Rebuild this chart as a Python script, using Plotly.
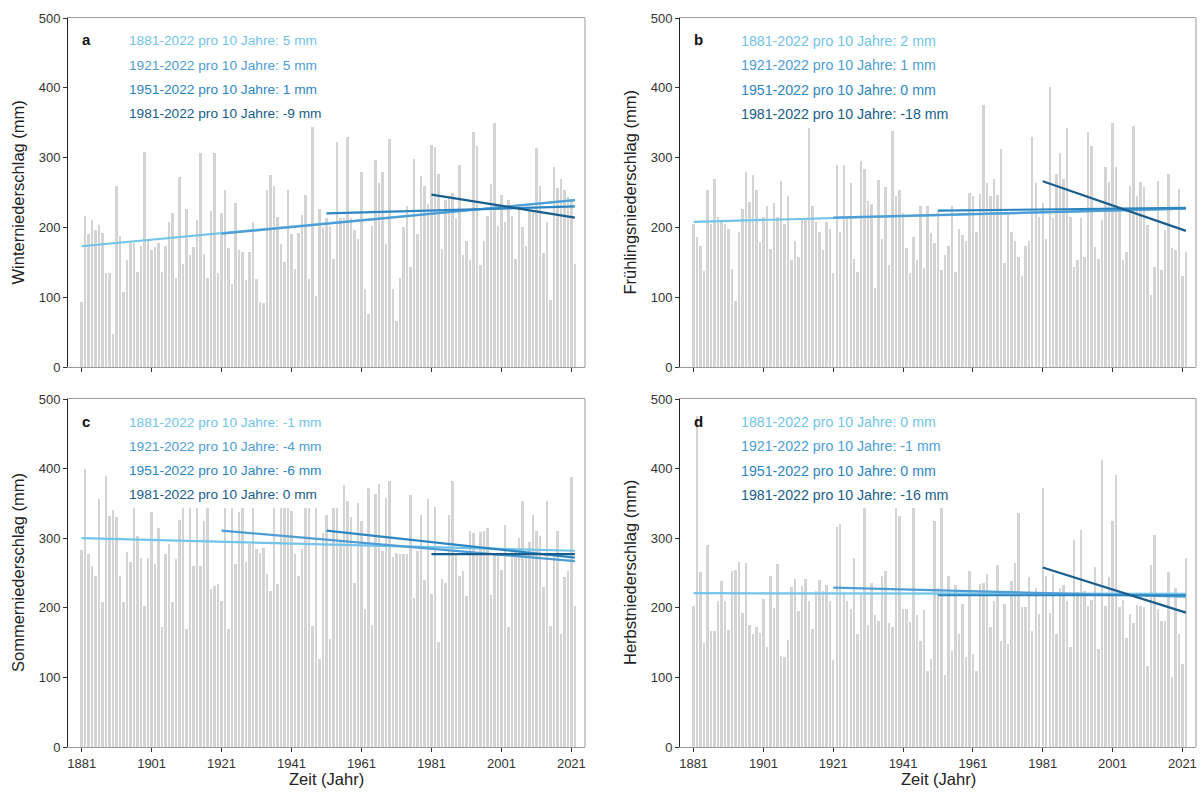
import plotly.graph_objects as go
from plotly.subplots import make_subplots

years = list(range(1881, 2023))

winter = [93, 216, 191, 210, 196, 203, 192, 135, 134, 48,
          260, 187, 108, 153, 177, 177, 136, 174, 308, 181,
          168, 172, 177, 136, 174, 208, 220, 127, 272, 148,
          227, 160, 172, 211, 307, 162, 128, 224, 307, 134,
          220, 253, 170, 119, 235, 167, 165, 124, 165, 208,
          126, 93, 92, 253, 275, 260, 215, 176, 150, 253,
          191, 141, 192, 218, 247, 126, 344, 102, 226, 201,
          213, 202, 155, 322, 213, 213, 330, 213, 196, 184,
          279, 112, 76, 202, 296, 264, 279, 176, 326, 112,
          66, 128, 201, 230, 143, 298, 190, 273, 259, 234,
          318, 315, 277, 169, 239, 244, 249, 213, 289, 160,
          181, 153, 337, 316, 146, 181, 217, 262, 350, 202,
          247, 208, 239, 217, 155, 229, 201, 173, 224, 222,
          314, 259, 163, 208, 96, 287, 257, 270, 254, 244,
          239, 148]

spring = [205, 186, 173, 138, 253, 205, 269, 215, 210, 205,
          197, 141, 94, 193, 227, 280, 236, 275, 253, 179,
          215, 231, 169, 235, 215, 266, 205, 245, 153, 180,
          158, 211, 211, 342, 231, 208, 193, 167, 208, 198,
          134, 290, 193, 290, 215, 263, 155, 136, 295, 283,
          238, 234, 113, 268, 184, 258, 146, 338, 245, 253,
          220, 171, 135, 186, 154, 230, 142, 230, 192, 178,
          223, 139, 160, 174, 230, 136, 197, 189, 181, 249,
          245, 194, 248, 376, 264, 245, 270, 247, 312, 149,
          222, 194, 180, 158, 131, 174, 181, 329, 264, 215,
          235, 184, 401, 213, 277, 307, 270, 342, 215, 143,
          153, 213, 158, 337, 316, 172, 155, 210, 286, 265,
          350, 287, 229, 154, 165, 259, 345, 245, 265, 258,
          203, 103, 143, 266, 139, 196, 276, 170, 168, 255,
          131, 165]

summer = [283, 399, 277, 260, 245, 356, 209, 389, 332, 341,
          330, 245, 208, 280, 266, 343, 303, 271, 202, 271,
          338, 263, 314, 173, 277, 292, 208, 270, 326, 343,
          170, 343, 260, 343, 260, 325, 343, 227, 232, 234,
          210, 343, 170, 343, 263, 337, 343, 266, 292, 343,
          284, 279, 286, 248, 224, 343, 234, 343, 343, 343,
          339, 277, 245, 284, 343, 343, 174, 343, 127, 307,
          333, 155, 343, 343, 296, 376, 353, 330, 235, 351,
          325, 198, 372, 176, 364, 378, 281, 358, 382, 273,
          279, 278, 277, 277, 362, 214, 282, 333, 240, 357,
          220, 345, 151, 242, 236, 334, 382, 277, 245, 253,
          217, 310, 307, 277, 309, 311, 315, 219, 277, 277,
          254, 319, 173, 282, 282, 300, 354, 277, 295, 333,
          311, 303, 230, 353, 174, 277, 311, 162, 244, 253,
          388, 202]

autumn = [203, 475, 251, 150, 290, 167, 167, 210, 239, 210,
          168, 253, 254, 266, 192, 264, 175, 162, 172, 164,
          212, 143, 246, 200, 263, 131, 129, 154, 230, 241,
          195, 232, 242, 210, 170, 224, 240, 224, 233, 210,
          125, 316, 320, 221, 210, 198, 271, 162, 220, 343,
          176, 235, 189, 181, 246, 253, 178, 172, 343, 332,
          198, 198, 179, 343, 189, 153, 197, 109, 127, 325,
          229, 343, 103, 246, 138, 233, 162, 205, 129, 253,
          134, 109, 234, 236, 249, 172, 210, 262, 152, 206,
          148, 238, 265, 336, 201, 201, 244, 167, 228, 191,
          372, 246, 193, 248, 163, 229, 233, 210, 144, 297,
          223, 312, 224, 202, 211, 258, 141, 412, 203, 244,
          325, 391, 201, 211, 157, 191, 178, 204, 203, 201,
          116, 262, 304, 198, 181, 181, 251, 100, 228, 162,
          119, 271]

trend_start_years = [1881, 1921, 1951, 1981]
trend_end_year = 2022
trend_labels = ["1881-2022", "1921-2022", "1951-2022", "1981-2022"]

trend_a_start = [173, 191, 220, 247]
trend_a_end = [239, 239, 230, 214]
trend_b_start = [208, 214, 224, 266]
trend_b_end = [227, 227, 228, 195]
trend_c_start = [300, 311, 311, 277]
trend_c_end = [282, 267, 272, 277]
trend_d_start = [221, 229, 218, 258]
trend_d_end = [220, 216, 218, 193]

slopes_a = ["5", "5", "1", "-9"]
slopes_b = ["2", "1", "0", "-18"]
slopes_c = ["-1", "-4", "-6", "0"]
slopes_d = ["0", "-1", "0", "-16"]

panel_letters = ["a", "b", "c", "d"]
ylabels = ["Winterniederschlag (mm)", "Frühlingsniederschlag (mm)",
           "Sommerniederschlag (mm)", "Herbstniederschlag (mm)"]
xlabel = "Zeit (Jahr)"
xtick_vals = [1881, 1901, 1921, 1941, 1961, 1981, 2001, 2021]
ytick_vals = [0, 100, 200, 300, 400, 500]

line_colors = ["#72c4e9", "#4e9dd4", "#2d86c1", "#195d8c"]
bar_color = "#d4d4d4"
FONT = "Liberation Sans, Arial, Helvetica, sans-serif"

W, H = 1200, 803
# pixel boxes of the four panels: (left, right, top, bottom)
boxes = [(68, 585, 18, 367), (680, 1196, 18, 367),
         (68, 585, 399, 747), (680, 1196, 399, 747)]
text_sizes = [13.7, 14.2, 13.7, 14.2]

fig = make_subplots(rows=2, cols=2)

series = [winter, spring, summer, autumn]
tstarts = [trend_a_start, trend_b_start, trend_c_start, trend_d_start]
tends = [trend_a_end, trend_b_end, trend_c_end, trend_d_end]
slopes = [slopes_a, slopes_b, slopes_c, slopes_d]
pos = [(1, 1), (1, 2), (2, 1), (2, 2)]

annotations = []
shapes = []
for i in range(4):
    r, c = pos[i]
    fig.add_trace(go.Bar(x=years, y=series[i], width=0.7, marker_color=bar_color,
                         marker_line_width=0, showlegend=False, hoverinfo="x+y"),
                  row=r, col=c)
    for k in range(4):
        fig.add_trace(go.Scatter(x=[trend_start_years[k], trend_end_year],
                                 y=[tstarts[i][k], tends[i][k]], mode="lines",
                                 line=dict(color=line_colors[k], width=2.2),
                                 showlegend=False),
                      row=r, col=c)
    L, R, T, B = boxes[i]
    ax = "" if i == 0 else str(i + 1)
    fig.layout["xaxis" + ax].update(
        domain=[L / W, R / W], range=[1877.1, 2024.9], automargin=False,
        tickmode="array", tickvals=xtick_vals, ticks="outside", ticklen=4,
        tickcolor="#333", showticklabels=(i >= 2),
        showline=True, linecolor="#9a9a9a", linewidth=1, mirror=True,
        showgrid=False, zeroline=False,
        tickfont=dict(family=FONT, size=13, color="#333"))
    fig.layout["yaxis" + ax].update(
        domain=[1 - B / H, 1 - T / H], range=[0, 500], automargin=False,
        tickmode="array", tickvals=ytick_vals, ticks="outside", ticklen=4,
        tickcolor="#333", showline=True, linecolor="#222", linewidth=1,
        mirror=False, showgrid=False, zeroline=False,
        tickfont=dict(family=FONT, size=13, color="#333"))
    shapes.append(dict(type="line", xref="x" + ax + " domain", yref="y" + ax + " domain",
                       x0=1, x1=1, y0=0, y1=1, line=dict(color="#9a9a9a", width=1)))
    annotations.append(dict(text="<b>" + panel_letters[i] + "</b>", xref="paper", yref="paper",
                            x=(L + 12) / W, y=1 - (T + 22) / H, xanchor="left", yanchor="middle",
                            showarrow=False, font=dict(family=FONT, size=15, color="#111")))
    for k in range(4):
        annotations.append(dict(text=trend_labels[k] + " pro 10 Jahre: " + slopes[i][k] + " mm",
                                xref="paper", yref="paper",
                                x=(L + 59) / W, y=1 - (T + 23 + 24.3 * k) / H,
                                xanchor="left", yanchor="middle", showarrow=False,
                                font=dict(family=FONT, size=text_sizes[i], color=line_colors[k])))
    annotations.append(dict(text=ylabels[i], xref="paper", yref="paper",
                            x=(L - 50) / W, y=1 - ((T + B) / 2) / H, textangle=-90,
                            xanchor="center", yanchor="middle", showarrow=False,
                            font=dict(family=FONT, size=16.5, color="#222")))
    if i >= 2:
        annotations.append(dict(text=xlabel, xref="paper", yref="paper",
                                x=((L + R) / 2) / W, y=1 - 779 / H,
                                xanchor="center", yanchor="middle", showarrow=False,
                                font=dict(family=FONT, size=16.5, color="#222")))

fig.update_layout(template="none", width=W, height=H, margin=dict(l=0, r=0, t=0, b=0, pad=0),
                  plot_bgcolor="white", paper_bgcolor="white",
                  annotations=annotations, shapes=shapes, bargap=0)

fig.write_html("out.html", config={"displayModeBar": False},
               post_script="document.body.style.margin='0';document.body.style.overflow='hidden';")
